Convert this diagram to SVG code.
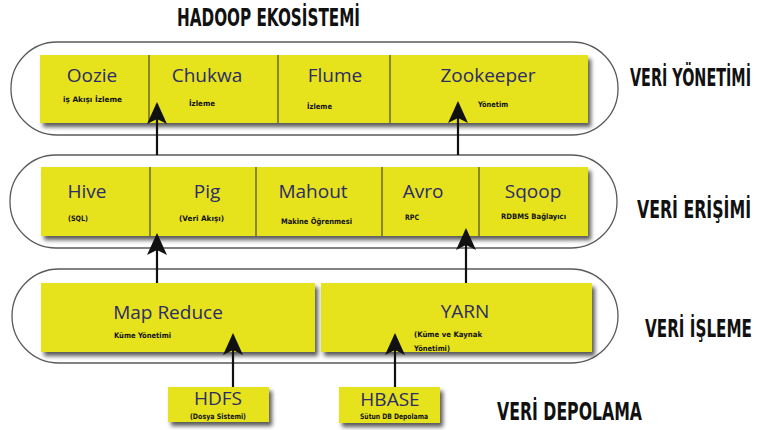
<svg xmlns="http://www.w3.org/2000/svg" width="759" height="430" viewBox="0 0 759 430">
<style>
.pill{fill:#fff;stroke:#5a5a5a;stroke-width:1.3}
.bar{fill:#e6e21a;filter:url(#sh)}
.div{stroke:#4a4a30;stroke-width:1.2}
.name{font-family:"Open Sans","Noto Sans",sans-serif;font-size:19px;fill:#2c2c66;text-anchor:middle}
.sub{font-family:"DejaVu Sans Condensed","Liberation Sans Narrow","Liberation Sans",sans-serif;font-weight:bold;font-size:7.5px;fill:#111}
.lbl{font-family:"DejaVu Sans Condensed","Liberation Sans Narrow","Liberation Sans",sans-serif;font-weight:bold;font-size:15px;fill:#111}
</style>
<defs>
<filter id="sh" x="-5%" y="-10%" width="115%" height="140%">
<feDropShadow dx="3" dy="4" stdDeviation="2" flood-color="#000" flood-opacity="0.65"/>
</filter>
<marker id="ah2" markerWidth="22" markerHeight="20" refX="20" refY="10" orient="auto" markerUnits="userSpaceOnUse" viewBox="0 0 22 20">
<path d="M0,0 L22,10 L0,20 L5,10 Z" fill="#111"/>
</marker>
</defs>

<text class="lbl" transform="translate(177,26) scale(1,1.6)" x="0" y="0" textLength="183" lengthAdjust="spacingAndGlyphs">HADOOP EKOSİSTEMİ</text>

<g id="layer-yonetim">
<rect class="pill" x="11" y="42" width="607" height="93" rx="46" ry="46"/>
<rect class="bar" x="40" y="55" width="548" height="68"/>
<line class="div" x1="149" y1="55" x2="149" y2="123"/>
<line class="div" x1="278" y1="55" x2="278" y2="123"/>
<line class="div" x1="390" y1="55" x2="390" y2="123" stroke-width="2"/>
<text class="lbl" transform="translate(630,86) scale(1,1.65)" x="0" y="0" textLength="121" lengthAdjust="spacingAndGlyphs">VERİ YÖNETİMİ</text>
</g>
<g id="oozie"><text class="name" x="92" y="82">Oozie</text><text class="sub" x="63" y="102" textLength="59" lengthAdjust="spacingAndGlyphs">iş Akışı İzleme</text></g>
<g id="chukwa"><text class="name" x="207" y="82">Chukwa</text><text class="sub" x="189" y="106" textLength="26" lengthAdjust="spacingAndGlyphs">İzleme</text></g>
<g id="flume"><text class="name" x="335" y="82">Flume</text><text class="sub" x="307" y="109" textLength="25" lengthAdjust="spacingAndGlyphs">İzleme</text></g>
<g id="zookeeper"><text class="name" x="488" y="82">Zookeeper</text><text class="sub" x="478" y="107" textLength="30" lengthAdjust="spacingAndGlyphs">Yönetim</text></g>

<g id="layer-erisim">
<rect class="pill" x="10" y="155" width="607" height="93" rx="46" ry="46"/>
<rect class="bar" x="41" y="167" width="547" height="69"/>
<line class="div" x1="150" y1="167" x2="150" y2="236"/>
<line class="div" x1="256" y1="167" x2="256" y2="236"/>
<line class="div" x1="382" y1="167" x2="382" y2="236"/>
<line class="div" x1="479" y1="167" x2="479" y2="236"/>
<text class="lbl" transform="translate(637,218) scale(1,1.65)" x="0" y="0" textLength="114" lengthAdjust="spacingAndGlyphs">VERİ ERİŞİMİ</text>
</g>
<g id="hive"><text class="name" x="87" y="198">Hive</text><text class="sub" x="68" y="221" textLength="20" lengthAdjust="spacingAndGlyphs">(SQL)</text></g>
<g id="pig"><text class="name" x="207" y="198">Pig</text><text class="sub" x="179" y="221" textLength="45" lengthAdjust="spacingAndGlyphs">(Veri Akışı)</text></g>
<g id="mahout"><text class="name" x="313" y="198">Mahout</text><text class="sub" x="281" y="224" textLength="71" lengthAdjust="spacingAndGlyphs">Makine Öğrenmesi</text></g>
<g id="avro"><text class="name" x="423" y="198">Avro</text><text class="sub" x="405" y="220" textLength="14" lengthAdjust="spacingAndGlyphs">RPC</text></g>
<g id="sqoop"><text class="name" x="533" y="198">Sqoop</text><text class="sub" x="501" y="219" textLength="65" lengthAdjust="spacingAndGlyphs">RDBMS Bağlayıcı</text></g>

<g id="layer-isleme">
<rect class="pill" x="12" y="269" width="606" height="94" rx="47" ry="47"/>
<text class="lbl" transform="translate(645,337) scale(1,1.65)" x="0" y="0" textLength="107" lengthAdjust="spacingAndGlyphs">VERİ İŞLEME</text>
</g>
<g id="mapreduce"><rect class="bar" x="41" y="283" width="274" height="69"/><text class="name" x="168" y="319">Map Reduce</text><text class="sub" x="114" y="338" textLength="57" lengthAdjust="spacingAndGlyphs">Küme Yönetimi</text></g>
<g id="yarn"><rect class="bar" x="321" y="283" width="271" height="69"/><text class="name" x="465" y="318">YARN</text><text class="sub" x="414" y="337" textLength="68" lengthAdjust="spacingAndGlyphs">(Küme ve Kaynak</text><text class="sub" x="414" y="351" textLength="36" lengthAdjust="spacingAndGlyphs">Yönetimi)</text></g>

<g id="hdfs"><rect class="bar" x="168" y="387" width="101" height="35"/><text class="name" x="218" y="405">HDFS</text><text class="sub" x="190" y="419" textLength="56" lengthAdjust="spacingAndGlyphs">(Dosya Sistemi)</text></g>
<g id="hbase"><rect class="bar" x="339" y="387" width="101" height="36"/><text class="name" x="390" y="406">HBASE</text><text class="sub" x="360" y="419" textLength="68" lengthAdjust="spacingAndGlyphs">Sütun DB Depolama</text></g>
<text class="lbl" transform="translate(497,420) scale(1,1.65)" x="0" y="0" textLength="145" lengthAdjust="spacingAndGlyphs">VERİ DEPOLAMA</text>

<g id="connectors" stroke="#111" stroke-width="2.2" fill="none">
<path d="M157,155 V104" marker-end="url(#ah2)"/>
<path d="M458,155 V103" marker-end="url(#ah2)"/>
<path d="M157,283 V235" marker-end="url(#ah2)"/>
<path d="M466,283 V230" marker-end="url(#ah2)"/>
<path d="M233,387 V335" marker-end="url(#ah2)"/>
<path d="M395,387 V335" marker-end="url(#ah2)"/>
</g>
</svg>
